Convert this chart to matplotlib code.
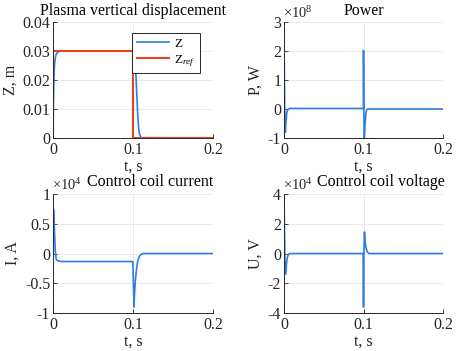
import numpy as np
import matplotlib
matplotlib.use('Agg')
import matplotlib.pyplot as plt

plt.rcParams['font.family'] = 'Liberation Serif'
plt.rcParams['mathtext.fontset'] = 'custom'
plt.rcParams['mathtext.rm'] = 'Liberation Serif'
plt.rcParams['mathtext.it'] = 'Liberation Serif:italic'

BLUE = '#2e7ee0'
RED = '#e2471c'

# plasma vertical displacement, m
t_z = [0, 0.0005, 0.001, 0.0015, 0.002, 0.003, 0.004, 0.006, 0.008, 0.011, 0.1, 0.1005, 0.101, 0.102,
       0.103, 0.104, 0.105, 0.106, 0.107, 0.108, 0.110, 0.2]
z = [0, 0.012, 0.019, 0.023, 0.0255, 0.0278, 0.0289, 0.0296, 0.0299, 0.03, 0.03, 0.0299, 0.0296, 0.0282,
     0.025, 0.0198, 0.0135, 0.0075, 0.0035, 0.0014, 0.0001, 0]
t_ref = [0, 0, 0.1, 0.1, 0.2]
z_ref = [0, 0.03, 0.03, 0, 0]

# power, x1e8 W
t_p = [0, 0.0003, 0.0007, 0.0012, 0.0018, 0.0025, 0.0035, 0.005, 0.007, 0.0999, 0.1, 0.1003, 0.1008,
       0.1013, 0.102, 0.103, 0.104, 0.105, 0.2]
p = [0, 1.6, 0.6, -0.6, -0.8, -0.45, -0.12, -0.01, 0.02, 0.02, 2.02, 0.5, -1.0, -0.95, -0.5, -0.15,
     -0.03, 0.0, 0.0]

# control coil current, x1e4 A
t_i = [0, 0.0004, 0.001, 0.0018, 0.0028, 0.004, 0.006, 0.008, 0.011, 0.0998, 0.1005, 0.1012, 0.102,
       0.103, 0.1045, 0.106, 0.108, 0.11, 0.113, 0.2]
i_c = [0, 0.75, 0.72, 0.4, 0.05, -0.1, -0.12, -0.13, -0.135, -0.135, -0.5, -0.9, -0.65, -0.45, -0.25,
       -0.12, -0.05, -0.015, 0, 0]

# control coil voltage, x1e4 V
t_u = [0, 0.0006, 0.0012, 0.0018, 0.0025, 0.0035, 0.0045, 0.006, 0.008, 0.0995, 0.1, 0.1006, 0.1012,
       0.1018, 0.1025, 0.1035, 0.105, 0.107, 0.2]
u = [4.0, 1.5, -0.6, -1.4, -1.1, -0.5, -0.2, -0.05, 0, 0, -3.6, 0.2, 1.45, 1.0, 0.6, 0.3, 0.08, 0, 0]

fig = plt.figure(figsize=(4.74, 3.51), dpi=100)

boxes = [(53, 22, 213, 138), (284, 22, 443, 138), (53, 194, 213, 313), (284, 194, 443, 313)]
W, H = 474, 351
axes = []
for (x0, y0, x1, y1) in boxes:
    ax = fig.add_axes([x0 / W, 1 - y1 / H, (x1 - x0) / W, (y1 - y0) / H])
    axes.append(ax)

FS = 11.5


def style(ax, ylim, yticks, ylabels, ylabel, title, title_x=0.5, expo=None):
    ax.set_xlim(0, 0.2)
    ax.set_ylim(*ylim)
    ax.set_xticks([0, 0.1, 0.2])
    ax.set_xticklabels(['0', '0.1', '0.2'])
    ax.set_yticks(yticks)
    ax.set_yticklabels(ylabels)
    ax.tick_params(direction='in', length=3, labelsize=FS, width=0.6, colors='#262626', pad=2)
    ax.tick_params(axis='x', pad=3)
    for s in ['top', 'right']:
        ax.spines[s].set_visible(False)
    for s in ['left', 'bottom']:
        ax.spines[s].set_color('#262626')
        ax.spines[s].set_linewidth(0.7)
    ax.grid(True, color='#e6e6e6', linewidth=0.6)
    ax.set_axisbelow(True)
    ax.set_xlabel('t, s', fontsize=FS, labelpad=0, color='#262626')
    ax.set_ylabel(ylabel, fontsize=FS, labelpad=3, color='#262626')
    ax.text(title_x, 1.03, title, transform=ax.transAxes, fontsize=FS, ha='center', va='bottom',
            color='black')
    if expo:
        ax.text(-0.005, 1.01, r'$\times\mathregular{10^{%d}}$' % expo, transform=ax.transAxes,
                fontsize=10.5, ha='left', va='bottom', color='#262626')


ax = axes[0]
ax.plot(t_z, z, color=BLUE, lw=1.2, label='Z')
ax.plot(t_ref, z_ref, color=RED, lw=1.5, label=r'Z$_{\mathit{ref}}$')
style(ax, (0, 0.04), [0, 0.01, 0.02, 0.03, 0.04], ['0', '0.01', '0.02', '0.03', '0.04'], 'Z, m',
      'Plasma vertical displacement')
leg = ax.legend(loc='upper right', bbox_to_anchor=(0.92, 0.905), fontsize=9.5, fancybox=False,
                framealpha=1, edgecolor='#262626', handlelength=2.4, borderpad=0.35, labelspacing=0.25,
                handletextpad=0.4, borderaxespad=0)
leg.get_frame().set_linewidth(0.7)

ax = axes[1]
ax.plot(t_p, p, color=BLUE, lw=1.2)
style(ax, (-1, 3), [-1, 0, 1, 2, 3], ['-1', '0', '1', '2', '3'], 'P, W', 'Power', expo=8)

ax = axes[2]
ax.plot(t_i, i_c, color=BLUE, lw=1.2)
style(ax, (-1, 1), [-1, -0.5, 0, 0.5, 1], ['-1', '-0.5', '0', '0.5', '1'], 'I, A',
      'Control coil current', title_x=0.61, expo=4)

ax = axes[3]
ax.plot(t_u, u, color=BLUE, lw=1.2)
style(ax, (-4, 4), [-4, -2, 0, 2, 4], ['-4', '-2', '0', '2', '4'], 'U, V',
      'Control coil voltage', title_x=0.61, expo=4)

fig.savefig('out.png', dpi=100)
